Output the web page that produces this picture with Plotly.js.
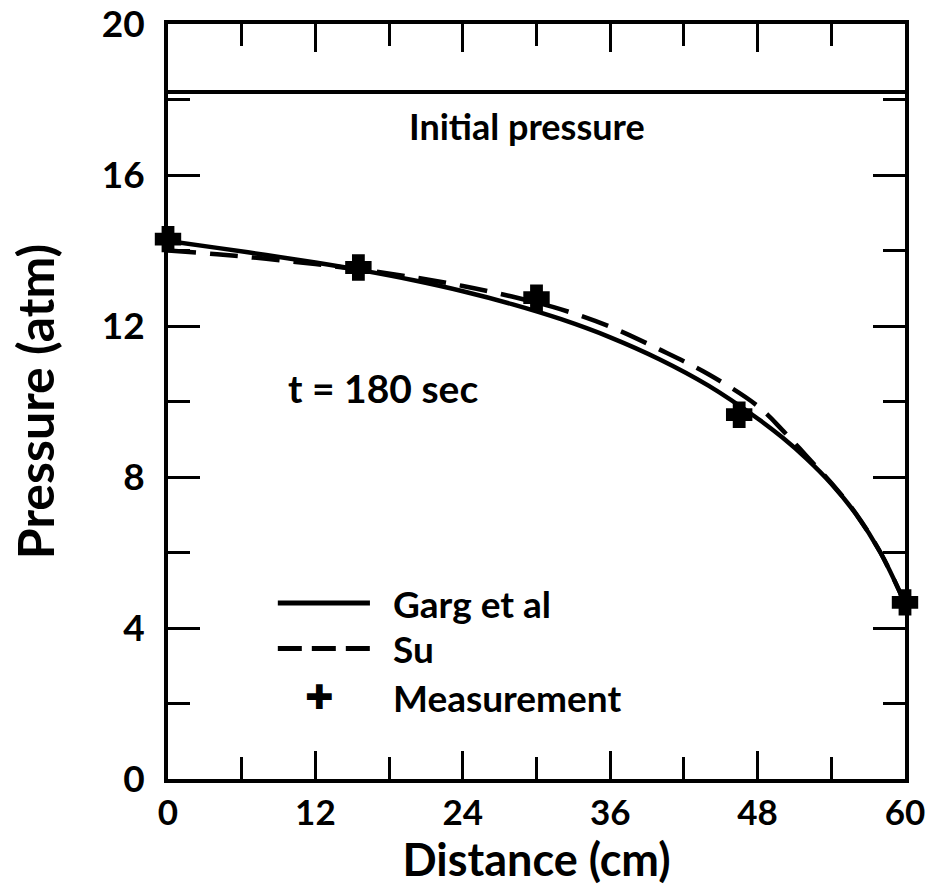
<!DOCTYPE html>
<html>
<head>
<meta charset="utf-8">
<script src="https://cdn.plot.ly/plotly-3.0.1.min.js"></script>
<style>html,body{margin:0;padding:0;background:#fff;}#chart{width:935px;height:886px;}</style>
</head>
<body>
<div id="chart"></div>
<script>
// ---- data ----
const distanceGrid = [0, 4, 8, 12, 16, 20, 24, 28, 32, 36, 40, 44, 48, 50, 52, 54, 56, 58, 60];
const gargPressure = [14.25, 14.07, 13.88, 13.68, 13.46, 13.21, 12.92, 12.58, 12.18, 11.7, 11.12, 10.42, 9.55, 9.05, 8.48, 7.82, 7.02, 6.0, 4.65];
const suPressure   = [14.0, 13.9, 13.78, 13.64, 13.48, 13.29, 13.06, 12.78, 12.44, 11.98, 11.38, 10.72, 9.88, 9.25, 8.55, 7.84, 7.03, 6.0, 4.65];
const measDistance = [0, 15.5, 30, 46.5, 60];
const measPressure = [14.3, 13.55, 12.75, 9.65, 4.68];
const initialPressure = 18.2;
const xTickVals = [0, 12, 24, 36, 48, 60];
const xMinorVals = [6, 18, 30, 42, 54];
const yTickVals = [0, 4, 8, 12, 16, 20];
const yMinorVals = [2, 6, 10, 14, 18];
const legendNames = ["Garg et al", "Su", "Measurement"];

const F = "Lato, 'Open Sans', sans-serif";
const black = "#000";

const traces = [
  {x: [0, 60], y: [initialPressure, initialPressure], mode: "lines",
   line: {color: black, width: 4}, name: "Initial pressure", showlegend: false, hoverinfo: "skip"},
  {x: distanceGrid, y: gargPressure, mode: "lines", name: legendNames[0],
   line: {color: black, width: 4.5, shape: "spline", smoothing: 1}, showlegend: false},
  {x: distanceGrid, y: suPressure, mode: "lines", name: legendNames[1],
   line: {color: black, width: 4.5, dash: "28px,14px", shape: "spline", smoothing: 1}, showlegend: false},
  {x: measDistance, y: measPressure, mode: "markers", name: legendNames[2],
   marker: {symbol: "cross", size: 17, color: black, line: {color: black, width: 6}},
   cliponaxis: false, showlegend: false}
];

// legend keys in paper coordinates
const lx0 = 0.149, lx1 = 0.274, ltx = 0.302;
const ly = [0.233, 0.173, 0.108];

const layout = {
  width: 935, height: 886,
  margin: {l: 168, r: 30, t: 24, b: 107},
  paper_bgcolor: "#fff", plot_bgcolor: "#fff",
  font: {family: F, color: black, weight: 700},
  xaxis: {
    range: [0, 60], tickvals: xTickVals, ticktext: xTickVals.map(String),
    ticks: "inside", ticklen: 28, tickwidth: 3, tickcolor: black,
    showline: true, linewidth: 4, linecolor: black, mirror: "ticks",
    showgrid: false, zeroline: false,
    tickfont: {family: F, size: 35, weight: 700},
    ticklabelstandoff: 0, ticklabeloverflow: "allow",
    minor: {tickvals: xMinorVals, ticks: "inside", ticklen: 22, tickwidth: 3, tickcolor: black, showgrid: false},
    title: {text: "Distance (cm)", font: {family: F, size: 45, weight: 700}, standoff: 2}
  },
  yaxis: {
    range: [0, 20], tickvals: yTickVals, ticktext: yTickVals.map(String),
    ticks: "inside", ticklen: 32, tickwidth: 3, tickcolor: black,
    showline: true, linewidth: 4, linecolor: black, mirror: "ticks",
    showgrid: false, zeroline: false,
    tickfont: {family: F, size: 37, weight: 700},
    ticklabelstandoff: 12, ticklabeloverflow: "allow",
    minor: {tickvals: yMinorVals, ticks: "inside", ticklen: 22, tickwidth: 3, tickcolor: black, showgrid: false},
    title: {text: "Pressure (atm)", font: {family: F, size: 50, weight: 700}, standoff: 32}
  },
  showlegend: false,
  shapes: [
    {type: "line", xref: "paper", yref: "paper", x0: lx0, x1: lx1, y0: ly[0], y1: ly[0],
     line: {color: black, width: 5}},
    {type: "line", xref: "paper", yref: "paper", x0: lx0, x1: lx1, y0: ly[1], y1: ly[1],
     line: {color: black, width: 5, dash: "24px,10px"}}
  ],
  annotations: [
    {text: "Initial pressure", x: 29.2, y: 17.3, xref: "x", yref: "y", showarrow: false,
     xanchor: "center", yanchor: "middle", font: {family: F, size: 36, weight: 700}},
    {text: "t = 180 sec", x: 17.5, y: 10.37, xref: "x", yref: "y", showarrow: false,
     xanchor: "center", yanchor: "middle", font: {family: F, size: 39, weight: 700}},
    {text: legendNames[0], x: ltx, y: ly[0], xref: "paper", yref: "paper", xanchor: "left", yanchor: "middle", showarrow: false,
     font: {family: F, size: 37, weight: 700}},
    {text: legendNames[1], x: ltx, y: ly[1], xref: "paper", yref: "paper", xanchor: "left", yanchor: "middle", showarrow: false,
     font: {family: F, size: 37, weight: 700}},
    {text: legendNames[2], x: ltx, y: ly[2], xref: "paper", yref: "paper", xanchor: "left", yanchor: "middle", showarrow: false,
     font: {family: F, size: 37, weight: 700}},
    {text: "\u271A", x: 0.206, y: ly[2], xref: "paper", yref: "paper", xanchor: "center", yanchor: "middle", showarrow: false,
     font: {family: "DejaVu Sans", size: 34, color: black}}
  ]
};

Plotly.newPlot("chart", traces, layout, {displayModeBar: false, staticPlot: true});
</script>
</body>
</html>
